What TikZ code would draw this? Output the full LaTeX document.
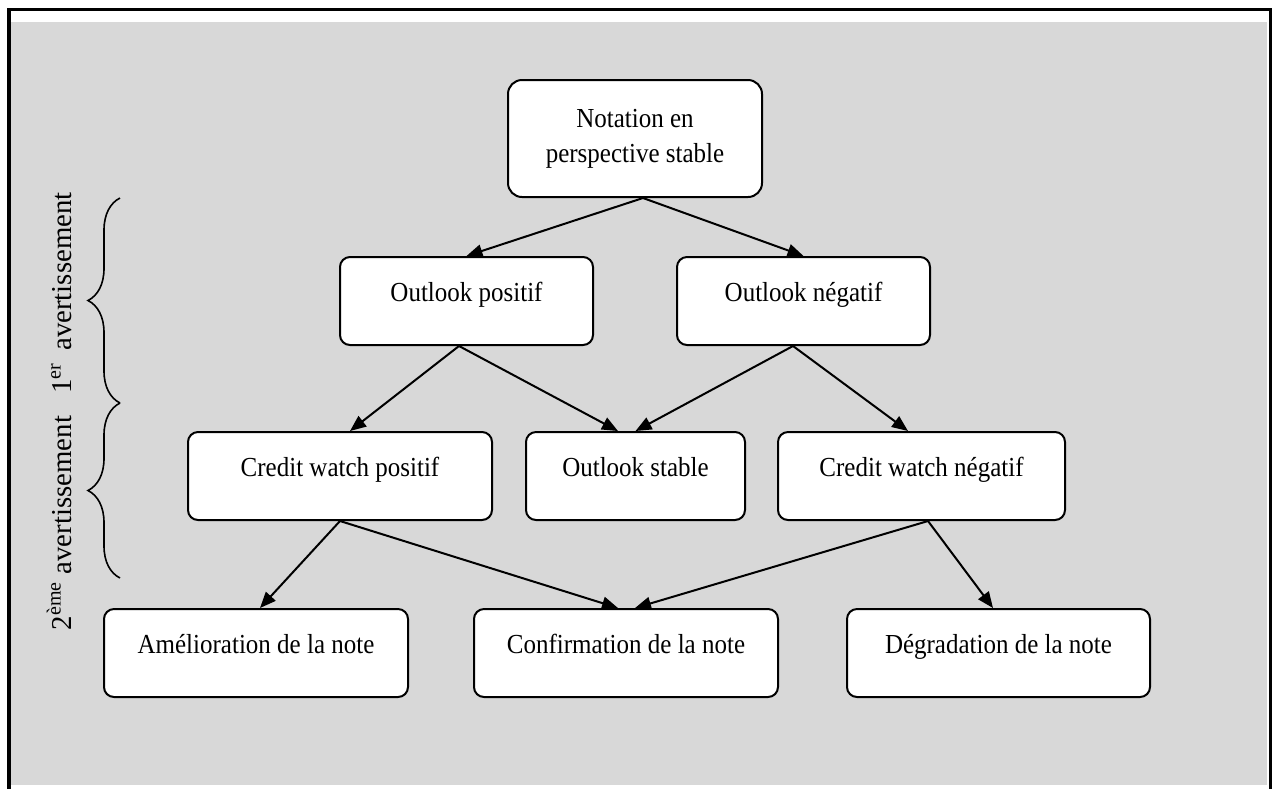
\documentclass[tikz,border=0pt]{standalone}
\usepackage{fontspec}
\usepackage{graphicx}
\setmainfont{Liberation Serif}
\usetikzlibrary{arrows.meta,decorations.pathreplacing}
\definecolor{panel}{RGB}{216,216,216}
% slightly tall, narrow lettering used inside the boxes
\newcommand{\tallword}[1]{\scalebox{1}[1.1]{#1}}

\begin{document}
\begin{tikzpicture}[x=0.5pt,y=-0.5pt,
  boxbase/.style={draw=black, line width=1pt, fill=white, rounded corners=5pt,
    inner sep=0pt, font=\fontsize{12.5}{17.5}\selectfont},
  box/.style={boxbase, minimum height=44pt, text height=8pt, text depth=8pt},
  link/.style={line width=1pt, -{Triangle[length=8pt,width=6.5pt]}},
  bracket/.style={line width=0.8pt, decorate, decoration={brace, amplitude=16pt}},
  side/.style={font=\fontsize{14.4}{17}\selectfont, rotate=90, anchor=base, inner sep=0pt}]

% page, grey panel and frame
\useasboundingbox (0,0) rectangle (1272,789);
\fill[white] (0,0) rectangle (1272,789);
\fill[panel] (11,22) rectangle (1267,785);
\fill[black] (7,8) rectangle (11,789);
\fill[black] (7,8) rectangle (1272,11);
\fill[black] (1269,8) rectangle (1272,789);

% rating states
\node[boxbase, rounded corners=7pt, align=center, minimum width=127pt, minimum height=58.5pt]
  (top) at (635,138.5) {\tallword{Notation en}\\\tallword{perspective stable}};

\node[box, minimum width=126.5pt] (opos) at (466.5,301) {\tallword{Outlook positif}};
\node[box, minimum width=126.5pt] (oneg) at (803.5,301) {\tallword{Outlook négatif}};

\node[box, minimum width=152pt]   (cwpos) at (340,476)   {\tallword{Credit watch positif}};
\node[box, minimum width=109.5pt] (ostab) at (635.5,476) {\tallword{Outlook stable}};
\node[box, minimum width=143.5pt] (cwneg) at (921.5,476) {\tallword{Credit watch négatif}};

\node[box, minimum width=152pt]   (up)   at (256,653)   {\tallword{Amélioration de la note}};
\node[box, minimum width=152pt]   (conf) at (626,653)   {\tallword{Confirmation de la note}};
\node[box, minimum width=151.5pt] (down) at (998.5,653) {\tallword{Dégradation de la note}};

% transitions
\draw[link] ([xshift=4pt]top.south) -- (opos.north);
\draw[link] ([xshift=4pt]top.south) -- (oneg.north);

\draw[link] ([xshift=-3.75pt]opos.south) -- ([xshift=5pt]cwpos.north);
\draw[link] ([xshift=-3.75pt]opos.south) -- ([xshift=-8.75pt]ostab.north);
\draw[link] ([xshift=-5.25pt]oneg.south) -- (ostab.north);
\draw[link] ([xshift=-5.25pt]oneg.south) -- ([xshift=-6.75pt]cwneg.north);

\draw[link] (cwpos.south) -- ([xshift=2pt]up.north);
\draw[link] (cwpos.south) -- ([xshift=-4pt]conf.north);
\draw[link] ([xshift=3.25pt]cwneg.south) -- ([xshift=4.5pt]conf.north);
\draw[link] ([xshift=3.25pt]cwneg.south) -- ([xshift=-2.75pt]down.north);

% warning stages
\coordinate (b1) at (120,198);
\coordinate (b2) at (120,403);
\coordinate (b3) at (120,578);
\draw[bracket] (b2) -- (b1);
\draw[bracket] (b3) -- (b2);

\node[side] (warn1) at (71,293) {1\textsuperscript{er}\, avertissement};
\node[side] (warn2) at (71,523) {2\textsuperscript{ème} avertissement};
\end{tikzpicture}
\end{document}
